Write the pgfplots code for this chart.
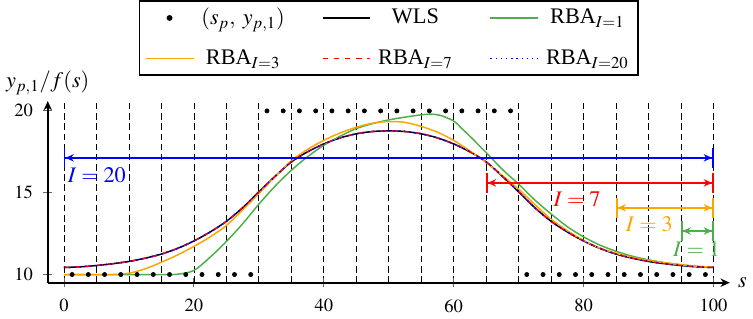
\documentclass[border=0pt]{standalone}
\usepackage{mathptmx}
\usepackage{fontspec}
\setmainfont{Liberation Serif}
\usepackage{pgfplots}
\pgfplotsset{compat=1.18}
\usetikzlibrary{arrows.meta}
\definecolor{cgreen}{RGB}{77,175,74}
\definecolor{corange}{RGB}{255,165,0}
\tikzset{arr/.style={line width=0.8pt,arrows={{Bar[width=11pt]Stealth[length=4.5pt,width=4pt]}-{Stealth[length=4.5pt,width=4pt]Bar[width=11pt]}}}}
\begin{document}
\begin{tikzpicture}
\begin{axis}[
  scale only axis, width=368pt, height=98pt,
  xmin=-2.5, xmax=102.5, ymin=9.5, ymax=20.6,
  axis lines=left,
  axis line style={line width=0.9pt, -{Stealth[length=5pt,width=4.5pt]}},
  xtick={0,20,...,100}, ytick={10,15,20},
  minor x tick num=3, minor tick length=0pt,
  xmajorgrids, xminorgrids,
  major grid style={black, line width=0.4pt, dash pattern=on 3.5pt off 2pt},
  minor grid style={black, line width=0.4pt, dash pattern=on 3.5pt off 2pt},
  tick align=center, major tick length=5pt,
  tick style={black!60, line width=0.5pt},
  xticklabel style={yshift=-3pt},
  yticklabel style={xshift=-2pt},
  every axis x label/.style={at={(axis description cs:1,0)}, anchor=west, xshift=1pt, font=\large},
  every axis y label/.style={at={(axis description cs:0,1)}, anchor=south, yshift=0pt, font=\large},
  xlabel={$s$}, ylabel={$y_{p,1}/f(s)$},
  legend columns=3, legend cell align=center,
  legend style={at={(0.5,1.14)}, anchor=south, draw=black, line width=0.9pt, font=\large,
    row sep=8pt,
    /tikz/every odd column/.append style={column sep=2pt},
    /tikz/every even column/.append style={column sep=18pt}},
  legend image code/.code={\draw[mark repeat=2,mark phase=2,#1] plot coordinates {(0cm,0cm)(0.45cm,0cm)(0.9cm,0cm)};},
  clip=false,
]
\addplot[only marks, mark=*, mark size=1.1pt, black,
  legend image code/.code={\fill[black] (0.45cm,0cm) circle (1.1pt);}]
  coordinates {
  (1.25,10)(3.75,10)(6.25,10)(8.75,10)(11.25,10)(13.75,10)(16.25,10)(18.75,10)(21.25,10)(23.75,10)(26.25,10)(28.75,10)
  (31.25,20)(33.75,20)(36.25,20)(38.75,20)(41.25,20)(43.75,20)(46.25,20)(48.75,20)(51.25,20)(53.75,20)(56.25,20)(58.75,20)(61.25,20)(63.75,20)(66.25,20)(68.75,20)
  (71.25,10)(73.75,10)(76.25,10)(78.75,10)(81.25,10)(83.75,10)(86.25,10)(88.75,10)(91.25,10)(93.75,10)(96.25,10)(98.75,10)};
\addlegendentry{$(s_p,\;y_{p,1})$}
% WLS
\addplot[black, line width=0.8pt, smooth, no marks] coordinates {
  (0,10.43)(2.5,10.47)(5,10.55)(7.5,10.66)(10,10.8)(12.5,11.0)(15,11.25)(17.5,11.6)(20,12.05)(22.5,12.6)(25,13.25)(27.5,14.08)(30,15.05)(32.5,16.0)(35,16.88)(37.5,17.5)(40,17.98)(42.5,18.35)(45,18.6)(47.5,18.74)(50,18.78)
  (52.5,18.74)(55,18.6)(57.5,18.35)(60,17.98)(62.5,17.5)(65,16.88)(67.5,16.0)(70,15.05)(72.5,14.08)(75,13.25)(77.5,12.6)(80,12.05)(82.5,11.6)(85,11.25)(87.5,11.0)(90,10.8)(92.5,10.66)(95,10.55)(97.5,10.47)(100,10.43)};
\addlegendentry{WLS}
% RBA I=1
\addplot[cgreen, line width=0.8pt, smooth, no marks] coordinates {
  (0,10.0)(5,10.0)(10,10.0)(15,10.0)(17.5,10.02)(20,10.25)(22.5,11.06)(25,12.02)(27.5,13.1)(30,14.3)(32.5,15.4)(35,16.37)(37.5,17.2)(40,17.9)(42.5,18.45)(45,18.92)(47.5,19.22)(50,19.45)(52.5,19.62)(55,19.76)(56.5,19.8)(58,19.72)(60,19.38)(61.25,18.92)(62.5,18.45)(65,17.45)(67.5,16.42)(70,15.52)(72.5,14.55)(75,13.7)(77.5,12.92)(80,12.3)(82.5,11.8)(85,11.42)(87.5,11.12)(90,10.9)(92.5,10.72)(95,10.6)(97.5,10.5)(100,10.45)};
\addlegendentry{RBA$_{I=1}$}
% RBA I=3
\addplot[corange, line width=0.8pt, smooth, no marks] coordinates {
  (0,10.0)(5,10.0)(7.5,10.0)(10,10.08)(12.5,10.35)(15,10.75)(17.5,11.2)(20,11.72)(22.5,12.3)(25,13.0)(27.5,13.95)(30,14.95)(32.5,15.98)(35,16.95)(37.5,17.65)(40,18.2)(42.5,18.65)(45,19.0)(47.5,19.25)(50,19.35)(52.5,19.3)(55,19.05)(57.5,18.7)(60,18.2)(62.5,17.55)(65,16.85)(67.5,16.05)(70,15.22)(72.5,14.28)(75,13.38)(77.5,12.68)(80,12.08)(82.5,11.62)(85,11.3)(87.5,11.05)(90,10.86)(92.5,10.72)(95,10.6)(97.5,10.5)(100,10.45)};
\addlegendentry{RBA$_{I=3}$}
% RBA I=7
\addplot[red, line width=0.8pt, dashed, smooth, no marks] coordinates {
  (0,10.43)(2.5,10.47)(5,10.55)(7.5,10.66)(10,10.8)(12.5,11.0)(15,11.25)(17.5,11.6)(20,12.05)(22.5,12.6)(25,13.25)(27.5,14.08)(30,15.05)(32.5,16.0)(35,16.88)(37.5,17.5)(40,17.98)(42.5,18.35)(45,18.6)(47.5,18.74)(50,18.78)
  (52.5,18.74)(55,18.6)(57.5,18.35)(60,17.98)(62.5,17.5)(65,16.88)(67.5,16.0)(70,15.05)(72.5,14.08)(75,13.25)(77.5,12.6)(80,12.05)(82.5,11.6)(85,11.25)(87.5,11.0)(90,10.8)(92.5,10.66)(95,10.55)(97.5,10.47)(100,10.43)};
\addlegendentry{RBA$_{I=7}$}
% RBA I=20
\addplot[blue, line width=0.8pt, dotted, smooth, no marks] coordinates {
  (0,10.43)(2.5,10.47)(5,10.55)(7.5,10.66)(10,10.8)(12.5,11.0)(15,11.25)(17.5,11.6)(20,12.05)(22.5,12.6)(25,13.25)(27.5,14.08)(30,15.05)(32.5,16.0)(35,16.88)(37.5,17.5)(40,17.98)(42.5,18.35)(45,18.6)(47.5,18.74)(50,18.78)
  (52.5,18.74)(55,18.6)(57.5,18.35)(60,17.98)(62.5,17.5)(65,16.88)(67.5,16.0)(70,15.05)(72.5,14.08)(75,13.25)(77.5,12.6)(80,12.05)(82.5,11.6)(85,11.25)(87.5,11.0)(90,10.8)(92.5,10.66)(95,10.55)(97.5,10.47)(100,10.43)};
\addlegendentry{RBA$_{I=20}$}
% interval arrows
\draw[blue, arr] (axis cs:0,17.13) -- (axis cs:100,17.13);
\node[blue, font=\large] at (axis cs:5.05,16.08) {$I=20$};
\draw[red, arr] (axis cs:65,15.6) -- (axis cs:100,15.6);
\node[red, font=\large] at (axis cs:79,14.6) {$I=7$};
\draw[corange, arr] (axis cs:85,14.08) -- (axis cs:100,14.08);
\node[corange, font=\large] at (axis cs:90.1,13.1) {$I=3$};
\draw[cgreen, arr] (axis cs:95,12.66) -- (axis cs:100,12.66);
\node[cgreen, font=\large] at (axis cs:97.4,11.53) {$I=1$};
\end{axis}
\end{tikzpicture}
\end{document}
